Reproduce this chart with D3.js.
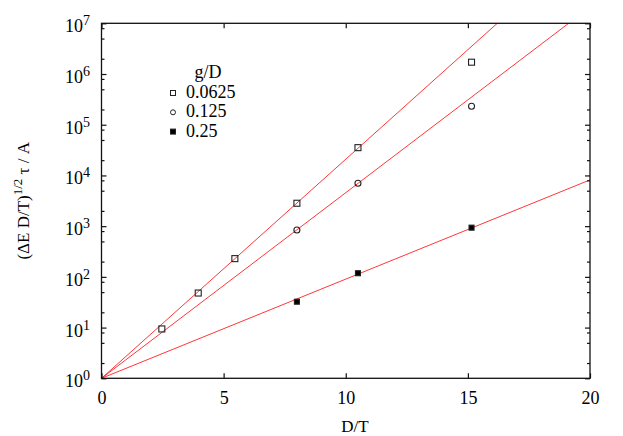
<!DOCTYPE html>
<html>
<head>
<meta charset="utf-8">
<script src="https://cdn.jsdelivr.net/npm/d3@7/dist/d3.min.js"></script>
<style>
  body { margin: 0; background: #fff; }
  svg text { font-family: "Liberation Serif", "Times New Roman", serif; fill: #000; }
</style>
</head>
<body>
<svg id="chart" width="623" height="436"></svg>
<script>
// Data
var gLabels = ['0.0625', '0.125', '0.25'];
var xSquare = [2.47, 3.96, 5.46, 8.0, 10.5, 15.15];
var ySquare = [9.4, 48, 229, 2830, 35300, 1.71e6];
var xCircle = [8.0, 10.5, 15.15];
var yCircle = [842, 7000, 2.32e5];
var xFilled = [8.0, 10.5, 15.15];
var yFilled = [32.4, 118, 934];
// fitted slopes (decades per unit of D/T), lines go through (0, 1)
var fitSlopes = [0.432, 0.366, 0.1956];
var xTicks = [0, 5, 10, 15, 20];
var yDecades = [0, 1, 2, 3, 4, 5, 6, 7];
var yMinorFactors = [2, 5, 8];

// Plot box
var plot = { left: 101.5, right: 590, top: 23.3, bottom: 378.3 };

var svg = d3.select('#chart');

var xScale = d3.scaleLinear().domain([0, 20]).range([plot.left, plot.right]);
var yScale = d3.scaleLog().domain([1, 1e7]).range([plot.bottom, plot.top]);

// Clip for fit lines
svg.append('clipPath').attr('id', 'plotclip')
   .append('rect')
   .attr('x', plot.left).attr('y', plot.top)
   .attr('width', plot.right - plot.left).attr('height', plot.bottom - plot.top);

// Fit lines
var line = d3.line()
    .x(function(d) { return xScale(d[0]); })
    .y(function(d) { return yScale(d[1]); });

svg.append('g')
   .attr('clip-path', 'url(#plotclip)')
   .selectAll('path')
   .data(fitSlopes)
   .enter()
   .append('path')
   .attr('d', function(s) {
       // straight line in log space: two ends are enough
       return line([[0, 1], [20, Math.pow(10, s * 20)]]);
   })
   .attr('fill', 'none')
   .attr('stroke', '#ff2020')
   .attr('stroke-width', 0.9);

// Frame
svg.append('rect')
   .attr('x', plot.left).attr('y', plot.top)
   .attr('width', plot.right - plot.left).attr('height', plot.bottom - plot.top)
   .attr('fill', 'none')
   .attr('stroke', '#111')
   .attr('stroke-width', 1.3);

// Axes with inward ticks
var majorY = yDecades.map(function(e) { return Math.pow(10, e); });
var minorY = [];
yDecades.slice(0, -1).forEach(function(e) {
    yMinorFactors.forEach(function(f) { minorY.push(f * Math.pow(10, e)); });
});

function styleAxis(g) {
    g.select('.domain').remove();
    g.selectAll('line').attr('stroke', '#111').attr('stroke-width', 1.2);
}

var xAxis = d3.axisBottom(xScale)
    .tickValues(xTicks)
    .tickSizeInner(-5)
    .tickSizeOuter(0)
    .tickPadding(13)
    .tickFormat(d3.format('d'));

svg.append('g')
   .attr('transform', 'translate(0,' + plot.bottom + ')')
   .call(xAxis)
   .call(styleAxis)
   .selectAll('text')
   .style('font-family', '"Liberation Serif", serif')
   .style('font-size', '18px')
   .style('fill', '#000');

svg.append('g')
   .attr('transform', 'translate(0,' + plot.top + ')')
   .call(d3.axisTop(xScale).tickValues(xTicks).tickSizeInner(-5).tickSizeOuter(0).tickFormat(''))
   .call(styleAxis);

[[plot.left, d3.axisLeft], [plot.right, d3.axisRight]].forEach(function(a) {
    svg.append('g')
       .attr('transform', 'translate(' + a[0] + ',0)')
       .call(a[1](yScale).tickValues(majorY).tickSizeInner(-5).tickSizeOuter(0).tickFormat(''))
       .call(styleAxis);
    svg.append('g')
       .attr('transform', 'translate(' + a[0] + ',0)')
       .call(a[1](yScale).tickValues(minorY).tickSizeInner(-3).tickSizeOuter(0).tickFormat(''))
       .call(styleAxis);
});

// Y tick labels as 10^n
var yLab = svg.append('g')
    .selectAll('text')
    .data(yDecades)
    .enter()
    .append('text')
    .attr('x', 90)
    .attr('y', function(e) { return yScale(Math.pow(10, e)) + 9; })
    .attr('text-anchor', 'end')
    .style('font-size', '18px');
yLab.append('tspan').text('10');
yLab.append('tspan')
    .attr('dy', -7)
    .style('font-size', '14px')
    .text(function(e) { return e; });

// Axis titles
svg.append('text')
   .attr('x', 355)
   .attr('y', 432)
   .attr('text-anchor', 'middle')
   .style('font-size', '17px')
   .text('D/T');

var yTitle = svg.append('text')
   .attr('transform', 'translate(29,' + ((plot.top + plot.bottom) / 2) + ')rotate(-90)')
   .attr('text-anchor', 'middle')
   .style('font-size', '17px');
yTitle.append('tspan').text('(\u0394E D/T)');
yTitle.append('tspan').attr('dy', -7).style('font-size', '13px').text('1/2');
yTitle.append('tspan').attr('dy', 7).text(' \u03c4 / A');

// Markers
function drawSquares(xs, ys, filled, size) {
    svg.append('g')
       .selectAll('rect')
       .data(xs.map(function(x, i) { return [x, ys[i]]; }))
       .enter()
       .append('rect')
       .attr('x', function(d) { return xScale(d[0]) - size / 2; })
       .attr('y', function(d) { return yScale(d[1]) - size / 2; })
       .attr('width', size)
       .attr('height', size)
       .attr('fill', filled ? '#000' : 'none')
       .attr('stroke', '#222')
       .attr('stroke-width', 1.1);
}
drawSquares(xSquare, ySquare, false, 6);
drawSquares(xFilled, yFilled, true, 5);

svg.append('g')
   .selectAll('circle')
   .data(xCircle.map(function(x, i) { return [x, yCircle[i]]; }))
   .enter()
   .append('circle')
   .attr('cx', function(d) { return xScale(d[0]); })
   .attr('cy', function(d) { return yScale(d[1]); })
   .attr('r', 3)
   .attr('fill', 'none')
   .attr('stroke', '#222')
   .attr('stroke-width', 1.1);

// Legend
var legend = svg.append('g');
legend.append('text')
      .attr('x', 208)
      .attr('y', 78)
      .attr('text-anchor', 'middle')
      .style('font-size', '18px')
      .text('g/D');

var legendRows = legend.selectAll('.row')
    .data(gLabels)
    .enter()
    .append('g')
    .attr('class', 'row')
    .attr('transform', function(d, i) { return 'translate(0,' + (98 + i * 19.3) + ')'; });

legendRows.append('text')
    .attr('x', 186)
    .attr('y', 0)
    .style('font-size', '18px')
    .text(function(d) { return d; });

legendRows.each(function(d, i) {
    var g = d3.select(this);
    if (i === 1) {
        g.append('circle').attr('cx', 173).attr('cy', -5).attr('r', 2.5)
         .attr('fill', 'none').attr('stroke', '#222').attr('stroke-width', 1);
    } else {
        g.append('rect').attr('x', 170.5).attr('y', -7.5).attr('width', 5).attr('height', 5)
         .attr('fill', i === 2 ? '#000' : 'none').attr('stroke', '#222').attr('stroke-width', 1);
    }
});
</script>
</body>
</html>
